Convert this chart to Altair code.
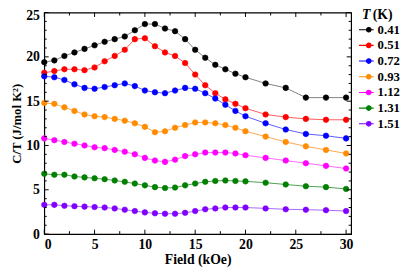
import altair as alt
import pandas as pd

fields = [0, 1, 2, 3, 4, 5, 6, 7, 8, 9, 10, 11, 12, 13, 14, 15, 16, 17, 18, 19, 20, 22, 24, 26, 28, 30]
temps = ["0.41", "0.51", "0.72", "0.93", "1.12", "1.31", "1.51"]

ct_041 = [19.4, 19.6, 20.1, 20.5, 20.9, 21.3, 21.7, 22.0, 22.3, 23.0, 23.7, 23.7, 23.2, 22.9, 22.0, 20.8, 19.9, 19.1, 18.6, 18.1, 17.7, 17.0, 16.5, 15.4, 15.4, 15.4]
ct_051 = [18.2, 18.4, 18.6, 18.6, 18.5, 18.8, 19.5, 20.1, 20.8, 22.0, 22.1, 21.2, 20.5, 20.1, 19.3, 18.0, 16.8, 15.9, 15.2, 14.7, 14.2, 13.5, 13.2, 13.0, 12.9, 12.9]
ct_072 = [17.8, 17.7, 17.4, 16.9, 16.5, 16.4, 16.6, 16.8, 17.0, 16.7, 16.2, 16.0, 15.9, 16.2, 16.5, 16.4, 15.9, 15.3, 14.6, 13.9, 13.3, 12.5, 11.8, 11.3, 11.1, 10.8]
ct_093 = [14.8, 14.7, 14.3, 13.9, 13.5, 13.3, 13.2, 13.0, 12.8, 12.5, 12.1, 11.5, 11.6, 12.0, 12.3, 12.6, 12.6, 12.5, 12.3, 12.0, 11.6, 11.0, 10.4, 9.9, 9.5, 9.1]
ct_112 = [10.8, 10.6, 10.4, 10.2, 10.0, 9.8, 9.7, 9.5, 9.3, 9.0, 8.6, 8.3, 8.15, 8.4, 8.8, 9.0, 9.2, 9.2, 9.2, 9.1, 8.9, 8.6, 8.3, 8.0, 7.7, 7.4]
ct_131 = [6.8, 6.7, 6.7, 6.5, 6.4, 6.3, 6.2, 6.05, 5.9, 5.7, 5.5, 5.3, 5.2, 5.25, 5.5, 5.7, 5.9, 6.0, 6.05, 6.0, 5.95, 5.8, 5.6, 5.4, 5.3, 5.1]
ct_151 = [3.3, 3.3, 3.2, 3.15, 3.1, 3.05, 3.0, 2.9, 2.75, 2.6, 2.45, 2.35, 2.3, 2.3, 2.4, 2.6, 2.8, 2.9, 3.0, 3.0, 3.0, 2.9, 2.8, 2.75, 2.7, 2.6]

point_colors = ["#000000", "#ff0000", "#0000ff", "#ff8c00", "#ff00ff", "#008000", "#8000ff"]
line_colors = ["#808080", "#ff5a5a", "#5a5aff", "#ffa64d", "#ff66ff", "#4ca04c", "#a866ff"]

x_major = [0, 5, 10, 15, 20, 25, 30]
x_minor = [2.5, 7.5, 12.5, 17.5, 22.5, 27.5]
y_major = [0, 5, 10, 15, 20, 25]
y_minor = [v for v in range(0, 26) if v % 5 != 0]

series = [ct_041, ct_051, ct_072, ct_093, ct_112, ct_131, ct_151]
rows = []
for t, vals in zip(temps, series):
    for f, v in zip(fields, vals):
        rows.append({"Field": f, "CT": v, "T": t})
df = pd.DataFrame(rows)

W, H = 313, 226
FONT = "Liberation Serif"

xscale = alt.Scale(domain=[0, 30.5], nice=False, zero=False)
yscale = alt.Scale(domain=[0, 25], nice=False, zero=False)

base = alt.Chart(df)

lines = base.mark_line(strokeWidth=1).encode(
    x=alt.X("Field:Q", scale=xscale,
            axis=alt.Axis(values=x_major, ticks=False, domain=False, grid=False,
                          labelFont=FONT, labelFontSize=14, labelFontWeight="bold",
                          labelPadding=4, title="Field (kOe)", titleFont=FONT,
                          titleFontSize=14, titleFontWeight="bold", titlePadding=1,
                          labelColor="black", titleColor="black")),
    y=alt.Y("CT:Q", scale=yscale,
            axis=alt.Axis(values=y_major, ticks=False, domain=False, grid=False,
                          labelFont=FONT, labelFontSize=14, labelFontWeight="bold",
                          labelPadding=5,
                          labelOffset={"condition": {"test": "datum.value == 25", "value": 3}, "value": 0},
                          title="C/T (J/mol K²)", titleFont=FONT,
                          titleFontSize=13, titleFontWeight="bold", titlePadding=2,
                          labelColor="black", titleColor="black")),
    color=alt.Color("T:N", scale=alt.Scale(domain=temps, range=line_colors), legend=None),
    detail="T:N",
)

legend = alt.Legend(
    title=None, orient="none", legendX=320, legendY=9.9, padding=0,
    symbolType="M-1,0L1,0M0.64,0A0.31,0.31,0,1,1,0.02,0A0.31,0.31,0,1,1,0.64,0Z",
    symbolSize=225, symbolStrokeWidth=1.1, clipHeight=15.2, rowPadding=0,
    labelOffset=3, labelFont=FONT, labelFontSize=13, labelFontWeight="bold",
    labelColor="black",
)

points = base.mark_point(filled=True, size=32, strokeWidth=0.6, opacity=1).encode(
    x=alt.X("Field:Q", scale=xscale),
    y=alt.Y("CT:Q", scale=yscale),
    fill=alt.Fill("T:N", scale=alt.Scale(domain=temps, range=point_colors), legend=legend),
    stroke=alt.Stroke("T:N", scale=alt.Scale(domain=temps, range=point_colors), legend=legend),
)

def xticks(vals, length):
    d = pd.DataFrame({"v": vals})
    bottom = alt.Chart(d).mark_rule(color="black", strokeWidth=1).encode(
        x=alt.X("v:Q", scale=xscale), y=alt.value(H), y2=alt.value(H - length))
    top = alt.Chart(d).mark_rule(color="black", strokeWidth=1).encode(
        x=alt.X("v:Q", scale=xscale), y=alt.value(0), y2=alt.value(length))
    return [bottom, top]

def yticks(vals, length):
    d = pd.DataFrame({"v": vals})
    left = alt.Chart(d).mark_rule(color="black", strokeWidth=1).encode(
        y=alt.Y("v:Q", scale=yscale), x=alt.value(0), x2=alt.value(length))
    right = alt.Chart(d).mark_rule(color="black", strokeWidth=1).encode(
        y=alt.Y("v:Q", scale=yscale), x=alt.value(W), x2=alt.value(W - length))
    return [left, right]

tick_layers = xticks(x_major, 4.5) + xticks(x_minor, 3) + yticks(y_major, 4.5) + yticks(y_minor, 2.5)

title_t = alt.Chart(pd.DataFrame({"s": ["T"]})).mark_text(
    font=FONT, fontSize=14, fontWeight="bold", fontStyle="italic", align="left",
    baseline="middle", color="black").encode(text="s:N", x=alt.value(324), y=alt.value(3))
title_k = alt.Chart(pd.DataFrame({"s": ["(K)"]})).mark_text(
    font=FONT, fontSize=14, fontWeight="bold", align="left",
    baseline="middle", color="black").encode(text="s:N", x=alt.value(335), y=alt.value(3))

chart = alt.layer(lines, points, *tick_layers, title_t, title_k).resolve_scale(
    color="independent", fill="independent", stroke="independent"
).properties(
    width=W, height=H,
    autosize=alt.AutoSizeParams(type="none"),
    padding={"left": 37, "top": 2, "right": 57, "bottom": 35},
    background="white",
).configure_view(stroke="black", strokeWidth=1.2)

chart.save("out.html", embed_options={"renderer": "svg", "actions": False})
